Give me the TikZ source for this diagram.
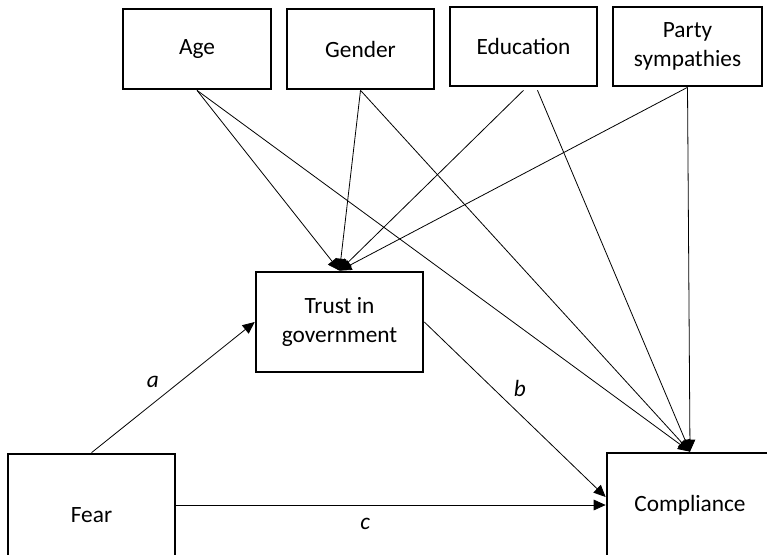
\documentclass[tikz,border=0pt]{standalone}
\usepackage{fontspec}
\setmainfont{Carlito}
\usetikzlibrary{arrows.meta,calc}
\tikzset{block/.style = {draw, fill=white, line width=2pt, rectangle, align=center, inner sep=0pt, font=\fontsize{17.5}{22}\selectfont},
         link/.style = {-{Triangle[length=9pt,width=8pt]}, line width=0.6pt},
         lbl/.style = {font=\fontsize{17.5}{22}\selectfont\itshape}}

\begin{document}
\begin{tikzpicture}[x=0.75pt,y=-0.75pt]
        \useasboundingbox (0,0) rectangle (767,554);
        % covariates
        \node[block, minimum width=111pt, minimum height=60pt](age)at(197,49){Age};
        \node[block, minimum width=110.25pt, minimum height=60pt](gender)at(360.5,49){Gender};
        \node[block, minimum width=110.25pt, minimum height=59.25pt](edu)at(523.5,46.5){Education};
        \node[block, minimum width=111.75pt, minimum height=59.25pt](party)at(687.5,46.5){Party\\sympathies};
        % mediator, predictor, outcome
        \node[block, minimum width=125.25pt, minimum height=75pt](trust)at(339.5,322){Trust in\\government};
        \node[block, minimum width=125.25pt, minimum height=91.5pt](fear)at(91.5,515){Fear};
        \node[block, minimum width=124.5pt, minimum height=78pt](compl)at(690,505){Compliance};

        \coordinate(edu2)at($(edu.south)+(14,3)$);
        \draw[link](age.south)--(trust.north);
        \draw[link](age.south)--(compl.north);
        \draw[link](gender.south)--(trust.north);
        \draw[link](gender.south)--(compl.north);
        \draw[link]($(edu.south)+(0,3)$)--(trust.north);
        \draw[link](edu2)--(compl.north);
        \draw[link](party.south)--(trust.north);
        \draw[link](party.south)--(compl.north);

        \draw[link](fear.north)--node[lbl,pos=0.45,above left=1pt]{a}(trust.west);
        \draw[link](trust.east)--node[lbl,pos=0.46,above right=1pt]{b}($(compl.west)+(0,-8)$);
        \draw[link](fear.east|-compl.west)--node[lbl,pos=0.44,below=6pt]{c}(compl.west);
\end{tikzpicture}
\end{document}
